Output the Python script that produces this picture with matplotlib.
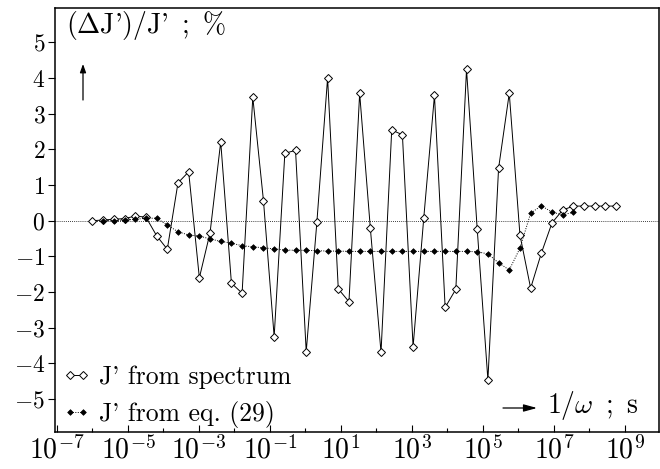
import matplotlib
matplotlib.use("Agg")
import matplotlib.pyplot as plt
from matplotlib.ticker import FixedLocator, FixedFormatter, NullFormatter

plt.rcParams['font.family'] = ['cmr10', 'DejaVu Serif']
plt.rcParams['mathtext.fontset'] = 'cm'
plt.rcParams['axes.unicode_minus'] = False

# 1/omega values (s)
x_spectrum = [1e-6, 2e-6, 4e-6, 8e-6, 1.6e-5, 3.2e-5, 6.4e-5, 1.28e-4, 2.56e-4, 5.12e-4,
              1.024e-3, 2.048e-3, 4.096e-3, 8.192e-3, 1.6384e-2, 3.2768e-2, 6.5536e-2,
              0.131072, 0.262144, 0.524288, 1.048576, 2.097152, 4.194304, 8.388608,
              16.777216, 33.554432, 67.108864, 134.217728, 268.435456, 536.870912,
              1073.74, 2147.48, 4294.97, 8589.93, 17179.87, 34359.74, 68719.48,
              137438.95, 274877.91, 549755.81, 1.0995e6, 2.1990e6, 4.3980e6, 8.7961e6,
              1.7592e7, 3.5184e7, 7.0369e7, 1.4074e8, 2.8147e8, 5.6295e8]
y_spectrum = [0.0, 0.02, 0.04, 0.06, 0.13, 0.10, -0.42, -0.80, 1.06, 1.37,
              -1.60, -0.34, 2.21, -1.75, -2.03, 3.46, 0.56, -3.25, 1.89, 1.97,
              -3.67, -0.03, 4.00, -1.91, -2.27, 3.57, -0.21, -3.69, 2.54, 2.41,
              -3.53, 0.08, 3.51, -2.43, -1.92, 4.24, -0.23, -4.46, 1.47, 3.57,
              -0.40, -1.89, -0.91, -0.06, 0.30, 0.41, 0.41, 0.41, 0.41, 0.41]

x_eq = [2e-6, 4e-6, 8e-6, 1.6e-5, 3.2e-5, 6.4e-5, 1.28e-4, 2.56e-4, 5.12e-4,
        1.024e-3, 2.048e-3, 4.096e-3, 8.192e-3, 1.6384e-2, 3.2768e-2, 6.5536e-2,
        0.131072, 0.262144, 0.524288, 1.048576, 2.097152, 4.194304, 8.388608,
        16.777216, 33.554432, 67.108864, 134.217728, 268.435456, 536.870912,
        1073.74, 2147.48, 4294.97, 8589.93, 17179.87, 34359.74, 68719.48,
        137438.95, 274877.91, 549755.81, 1.0995e6, 2.1990e6, 4.3980e6, 8.7961e6,
        1.7592e7, 3.5184e7]
y_eq = [0.00, 0.00, 0.02, 0.04, 0.07, 0.07, -0.12, -0.31, -0.40,
        -0.43, -0.51, -0.58, -0.63, -0.70, -0.73, -0.76,
        -0.79, -0.82, -0.83, -0.83, -0.84, -0.85, -0.85,
        -0.86, -0.86, -0.86, -0.86, -0.86, -0.86,
        -0.86, -0.86, -0.86, -0.86, -0.86, -0.86, -0.87,
        -0.93, -1.18, -1.38, -0.77, 0.21, 0.42, 0.24,
        0.16, 0.24]

label_spectrum = "J' from spectrum"
label_eq = "J' from eq. (29)"

x_major = [1e-7, 1e-5, 1e-3, 1e-1, 1e1, 1e3, 1e5, 1e7, 1e9]
x_major_labels = [r'$10^{-7}$', r'$10^{-5}$', r'$10^{-3}$', r'$10^{-1}$', r'$10^{1}$',
                  r'$10^{3}$', r'$10^{5}$', r'$10^{7}$', r'$10^{9}$']
x_minor = [1e-6, 1e-4, 1e-2, 1e0, 1e2, 1e4, 1e6, 1e8]
y_ticks = [-5, -4, -3, -2, -1, 0, 1, 2, 3, 4, 5]
y_tick_labels = [r'$-5$', r'$-4$', r'$-3$', r'$-2$', r'$-1$', r'$0$',
                 r'$1$', r'$2$', r'$3$', r'$4$', r'$5$']

W, H = 660, 469
fig = plt.figure(figsize=(W / 100, H / 100), dpi=100)
ax = fig.add_axes([55 / W, 1 - 432 / H, (659 - 55) / W, (432 - 8) / H])

ax.set_xscale('log')
ax.set_xlim(10 ** -7.056, 10 ** 9.958)
ax.set_ylim(-5.92, 5.96)

ax.axhline(0, color='k', lw=0.6, ls=(0, (1, 1.5)), zorder=1)

ax.plot(x_spectrum, y_spectrum, '-', color='k', lw=0.7, marker='D',
        markersize=4.3, markerfacecolor='white', markeredgecolor='k',
        markeredgewidth=0.7, label=label_spectrum, zorder=3)
ax.plot(x_eq, y_eq, ls=(0, (1, 1.5)), color='k', lw=0.7, marker='D',
        markersize=2.9, markerfacecolor='k', markeredgecolor='k',
        markeredgewidth=0.5, label=label_eq, zorder=4)

ax.xaxis.set_major_locator(FixedLocator(x_major))
ax.xaxis.set_major_formatter(FixedFormatter(x_major_labels))
ax.xaxis.set_minor_locator(FixedLocator(x_minor))
ax.xaxis.set_minor_formatter(NullFormatter())
ax.yaxis.set_major_locator(FixedLocator(y_ticks))
ax.yaxis.set_major_formatter(FixedFormatter(y_tick_labels))
ax.yaxis.set_minor_locator(FixedLocator([]))

ax.tick_params(axis='x', which='major', direction='in', length=5, width=0.8,
               labelsize=20, pad=3)
ax.tick_params(axis='x', which='minor', direction='in', length=3, width=0.8)
ax.tick_params(axis='y', which='major', direction='out', length=5, width=0.8,
               labelsize=17, pad=2)

for s in ax.spines.values():
    s.set_linewidth(1.1)

leg = ax.legend(loc='lower left', bbox_to_anchor=(0.0, -0.008), frameon=False,
                fontsize=18.5, handlelength=1.1, handletextpad=0.3,
                labelspacing=0.45, borderpad=0.3, borderaxespad=0.0, numpoints=2)

# Axis labels with arrows
fig.text(66 / W, 1 - 26 / H, "($\\Delta$J')/J' $\\,$; $\\,$%", fontsize=20,
         ha='left', va='center')
fig.patches.append(matplotlib.patches.FancyArrowPatch(
    (83 / W, 1 - 100 / H), (83 / W, 1 - 64 / H), transform=fig.transFigure,
    arrowstyle='-|>,head_length=5,head_width=1.8', color='k', lw=0.9,
    mutation_scale=1, shrinkA=0, shrinkB=0))

fig.text(547 / W, 1 - 405 / H, "1/$\\omega$ $\\,$; $\\,$s", fontsize=20,
         ha='left', va='center')
fig.patches.append(matplotlib.patches.FancyArrowPatch(
    (503 / W, 1 - 408 / H), (537 / W, 1 - 408 / H), transform=fig.transFigure,
    arrowstyle='-|>,head_length=8,head_width=2.2', color='k', lw=0.9,
    mutation_scale=1, shrinkA=0, shrinkB=0))

fig.savefig('out.png', dpi=100)
